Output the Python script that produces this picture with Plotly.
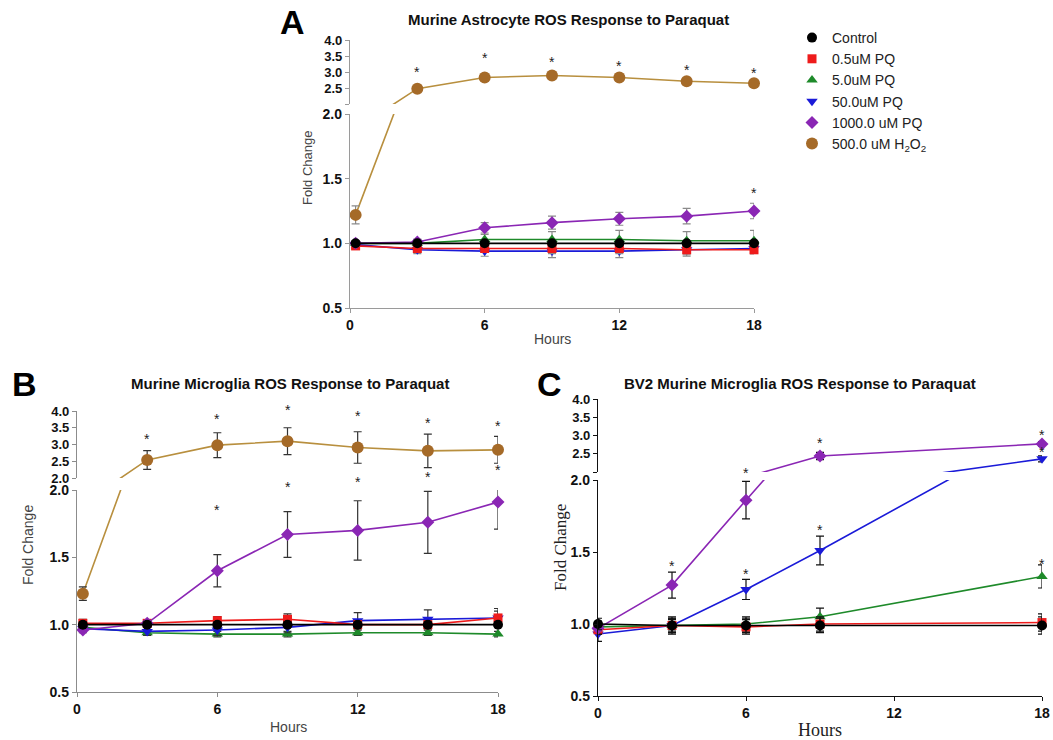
import plotly.graph_objects as go

W, H = 1053, 740

# ---------------- data ----------------
series_names = ["Control", "0.5uM PQ", "5.0uM PQ", "50.0uM PQ", "1000.0 uM PQ",
                "500.0 uM H<sub>2</sub>O<sub>2</sub>"]
marker_colors = ["#000000", "#ee1b1b", "#1e8a2a", "#1a1ad8", "#8a26b4", "#a56a28"]
line_colors = ["#000000", "#ee1b1b", "#1e8a2a", "#1a1ad8", "#8a26b4", "#b88f3e"]
symbols = ["circle", "square", "triangle-up", "triangle-down", "diamond", "circle"]
marker_sizes = [10, 9, 10, 10, 10, 12]

x_ticks = [0, 6, 12, 18]
lower_ticks = [0.5, 1.0, 1.5, 2.0]
upper_ticks = [2.0, 2.5, 3.0, 3.5, 4.0]

# Panel A: Murine astrocytes
A_t = [0.25, 3, 6, 9, 12, 15, 18]
A_ctrl = [1.00, 1.00, 1.00, 1.00, 1.00, 1.00, 1.00]
A_pq05 = [0.98, 0.96, 0.96, 0.96, 0.96, 0.95, 0.95]
A_pq5 = [1.00, 1.00, 1.03, 1.03, 1.03, 1.02, 1.02]
A_pq50 = [0.99, 0.95, 0.94, 0.94, 0.94, 0.95, 0.96]
A_pq1000 = [1.00, 1.01, 1.12, 1.16, 1.19, 1.21, 1.25]
A_h2o2 = [1.22, 2.48, 2.83, 2.89, 2.83, 2.71, 2.65]
A_ctrl_err = [0.02, 0.02, 0.02, 0.02, 0.02, 0.02, 0.02]
A_pq05_err = [0.02, 0.02, 0.03, 0.04, 0.04, 0.04, 0.03]
A_pq5_err = [0.02, 0.03, 0.04, 0.06, 0.07, 0.07, 0.08]
A_pq50_err = [0.02, 0.03, 0.04, 0.05, 0.05, 0.05, 0.04]
A_pq1000_err = [0.02, 0.02, 0.04, 0.05, 0.05, 0.06, 0.06]
A_h2o2_err = [0.07, 0.05, 0.05, 0.05, 0.05, 0.05, 0.05]
A_star_x = [3, 6, 9, 12, 15, 18, 18]
A_star_y = [3.00, 3.44, 3.31, 3.19, 3.06, 2.97, 1.39]

# Panel B: Murine microglia
B_t = [0.25, 3, 6, 9, 12, 15, 18]
B_ctrl = [1.00, 1.00, 1.00, 1.00, 1.00, 1.00, 1.00]
B_pq05 = [1.01, 1.01, 1.03, 1.04, 1.00, 1.00, 1.05]
B_pq5 = [0.98, 0.94, 0.93, 0.93, 0.94, 0.94, 0.93]
B_pq50 = [0.97, 0.95, 0.96, 0.98, 1.03, 1.04, 1.05]
B_pq1000 = [0.96, 1.01, 1.40, 1.67, 1.70, 1.76, 1.91]
B_h2o2 = [1.23, 2.54, 2.98, 3.10, 2.91, 2.81, 2.84]
B_ctrl_err = [0.02, 0.02, 0.02, 0.02, 0.02, 0.02, 0.02]
B_pq05_err = [0.03, 0.02, 0.03, 0.04, 0.03, 0.03, 0.05]
B_pq5_err = [0.02, 0.02, 0.02, 0.02, 0.02, 0.02, 0.02]
B_pq50_err = [0.02, 0.03, 0.04, 0.04, 0.06, 0.07, 0.07]
B_pq1000_err = [0.02, 0.02, 0.12, 0.17, 0.22, 0.23, 0.20]
B_h2o2_err = [0.05, 0.28, 0.37, 0.40, 0.47, 0.50, 0.40]
B_star_x = [3, 6, 9, 12, 15, 18, 6, 9, 12, 15, 18]
B_star_y = [3.16, 3.76, 4.03, 3.85, 3.64, 3.55, 1.85, 2.02, 2.06, 2.10, 2.15]

# Panel C: BV2 microglia (no H2O2 series)
C_t = [0, 3, 6, 9, 18]
C_ctrl = [1.00, 0.99, 0.99, 0.99, 0.99]
C_pq05 = [0.96, 0.99, 0.98, 1.00, 1.01]
C_pq5 = [0.98, 0.99, 1.00, 1.05, 1.33]
C_pq50 = [0.93, 0.99, 1.24, 1.51, 2.36]
C_pq1000 = [0.97, 1.27, 1.86, 2.44, 2.77]
C_ctrl_err = [0.04, 0.06, 0.05, 0.05, 0.06]
C_pq05_err = [0.03, 0.05, 0.05, 0.05, 0.06]
C_pq5_err = [0.04, 0.05, 0.05, 0.06, 0.08]
C_pq50_err = [0.05, 0.04, 0.07, 0.10, 0.08]
C_pq1000_err = [0.04, 0.09, 0.13, 0.10, 0.06]
C_star_x = [3, 6, 9, 18, 18, 6, 9, 18]
C_star_y = [1.40, 2.05, 2.79, 3.01, 2.55, 1.35, 1.65, 1.42]

panels = [
    dict(key="A", t=A_t,
         ys=[A_ctrl, A_pq05, A_pq5, A_pq50, A_pq1000, A_h2o2],
         es=[A_ctrl_err, A_pq05_err, A_pq5_err, A_pq50_err, A_pq1000_err, A_h2o2_err],
         stars=(A_star_x, A_star_y),
         xdom=(350, 754), lower=(114, 308), upper=(40, 104),
         axcol="#9a9a9a", errcol="#8a8a8a", show_upper_20=False, legend=True),
    dict(key="B", t=B_t,
         ys=[B_ctrl, B_pq05, B_pq5, B_pq50, B_pq1000, B_h2o2],
         es=[B_ctrl_err, B_pq05_err, B_pq5_err, B_pq50_err, B_pq1000_err, B_h2o2_err],
         stars=(B_star_x, B_star_y),
         xdom=(77, 498), lower=(490, 692), upper=(411, 478),
         axcol="#8c8c8c", errcol="#333333", show_upper_20=True, legend=False),
    dict(key="C", t=C_t,
         ys=[C_ctrl, C_pq05, C_pq5, C_pq50, C_pq1000],
         es=[C_ctrl_err, C_pq05_err, C_pq5_err, C_pq50_err, C_pq1000_err],
         stars=(C_star_x, C_star_y),
         xdom=(598, 1042), lower=(480, 696), upper=(399, 472),
         axcol="#111111", errcol="#111111", show_upper_20=False, legend=False),
]

SANS = "Arial, Liberation Sans, sans-serif"
SERIF = "Times New Roman, Liberation Serif, serif"
LOWER_RANGE = (0.5, 2.0)
UPPER_RANGE = (2.0, 4.0)


def fx(px):
    return px / W


def fy(py):
    return 1 - py / H


fig = go.Figure()
layout = {}
annotations = []
draw_order = [2, 3, 1, 4, 5, 0]

for pi, p in enumerate(panels):
    xa = "x" if pi == 0 else f"x{pi + 1}"
    ylo = "y" if pi == 0 else f"y{2 * pi + 1}"
    yup = f"y{2 * pi + 2}"
    ranges = {ylo: LOWER_RANGE, yup: UPPER_RANGE}
    for si in draw_order:
        if si >= len(p["ys"]):
            continue
        ys, es = p["ys"][si], p["es"][si]
        for ya in (ylo, yup):
            fig.add_trace(go.Scatter(
                x=p["t"], y=ys, xaxis=xa, yaxis=ya, mode="lines",
                line=dict(color=line_colors[si], width=1.6),
                showlegend=False, hoverinfo="skip"))
        for ya in (ylo, yup):
            lo, hi = ranges[ya]
            my = [v if lo <= v <= hi else None for v in ys]
            me = [e if lo <= v <= hi else None for v, e in zip(ys, es)]
            show = p["legend"] and ya == ylo
            fig.add_trace(go.Scatter(
                x=p["t"], y=my, xaxis=xa, yaxis=ya, mode="markers",
                marker=dict(color=marker_colors[si], symbol=symbols[si],
                            size=marker_sizes[si], line=dict(width=0)),
                error_y=dict(type="data", array=me, visible=True,
                             color=p["errcol"], thickness=1.2, width=4),
                cliponaxis=False, name=series_names[si],
                showlegend=show, legendrank=si + 1 if show else 1000))
    # significance asterisks: placed on the axis domain (so they may sit in the break)
    sx, sy = p["stars"]
    for x, y in zip(sx, sy):
        ya = ylo if y < 2.2 else yup
        lo, hi = ranges[ya]
        annotations.append(dict(text="*", x=x, y=(y - lo) / (hi - lo),
                                xref=xa, yref=f"{ya} domain",
                                showarrow=False, xanchor="center", yanchor="middle",
                                font=dict(size=14, color="#222222", family=SANS)))

    axcol = p["axcol"]
    tf = dict(family=SANS, size=14, color="#111111", weight="bold")
    tfu = dict(family=SANS, size=13, color="#111111", weight="bold")
    common = dict(showline=True, linecolor=axcol, linewidth=1.3, ticks="outside",
                  ticklen=4, tickcolor=axcol, tickwidth=1.2, showgrid=False,
                  zeroline=False, fixedrange=True, automargin=False)
    layout["xaxis" if pi == 0 else f"xaxis{pi + 1}"] = dict(
        domain=[fx(p["xdom"][0]), fx(p["xdom"][1])], range=[0, 18],
        tickvals=x_ticks, ticktext=[str(v) for v in x_ticks], anchor=ylo,
        tickfont=tf, **common)
    layout["yaxis" if pi == 0 else f"yaxis{2 * pi + 1}"] = dict(
        domain=[fy(p["lower"][1]), fy(p["lower"][0])], range=list(LOWER_RANGE),
        tickvals=lower_ticks, ticktext=[f"{v:.1f}" for v in lower_ticks],
        anchor=xa, tickfont=tf, **common)
    layout[f"yaxis{2 * pi + 2}"] = dict(
        domain=[fy(p["upper"][1]), fy(p["upper"][0])], range=list(UPPER_RANGE),
        tickvals=upper_ticks,
        ticktext=[("" if (v == 2.0 and not p["show_upper_20"]) else f"{v:.1f}") for v in upper_ticks],
        anchor=xa, tickfont=tfu, **common)

paper_notes = [
    # panel letters
    dict(text="<b>A</b>", x=fx(292), y=fy(22), font=dict(size=34, family=SANS, color="#000")),
    dict(text="<b>B</b>", x=fx(24), y=fy(384), font=dict(size=34, family=SANS, color="#000")),
    dict(text="<b>C</b>", x=fx(550), y=fy(384), font=dict(size=34, family=SANS, color="#000")),
    # titles
    dict(text="<b>Murine Astrocyte ROS Response to Paraquat</b>", x=fx(568), y=fy(20),
         font=dict(size=15, family=SANS, color="#111")),
    dict(text="<b>Murine Microglia ROS Response to Paraquat</b>", x=fx(290), y=fy(383),
         font=dict(size=15, family=SANS, color="#111")),
    dict(text="<b>BV2 Murine Microglia ROS Response to Paraquat</b>", x=fx(800), y=fy(383),
         font=dict(size=15, family=SANS, color="#111")),
    # axis titles
    dict(text="Fold Change", x=fx(307), y=fy(168), textangle=-90,
         font=dict(size=13, family=SANS, color="#444")),
    dict(text="Hours", x=fx(552), y=fy(339), font=dict(size=14, family=SANS, color="#444")),
    dict(text="Fold Change", x=fx(28), y=fy(545), textangle=-90,
         font=dict(size=14, family=SANS, color="#444")),
    dict(text="Hours", x=fx(288), y=fy(727), font=dict(size=14, family=SANS, color="#444")),
    dict(text="Fold Change", x=fx(560), y=fy(548), textangle=-90,
         font=dict(size=17, family=SERIF, color="#222")),
    dict(text="Hours", x=fx(820), y=fy(730), font=dict(size=18, family=SERIF, color="#222")),
]
for a in paper_notes:
    a.update(xref="paper", yref="paper", showarrow=False, xanchor="center", yanchor="middle")
annotations.extend(paper_notes)

fig.update_layout(
    width=W, height=H, margin=dict(l=0, r=0, t=0, b=0, pad=0, autoexpand=False),
    paper_bgcolor="white", plot_bgcolor="white",
    annotations=annotations,
    legend=dict(x=fx(792), y=fy(22), xanchor="left", yanchor="top",
                font=dict(size=14, family=SANS, color="#222"),
                itemwidth=30, bgcolor="rgba(0,0,0,0)", tracegroupgap=0),
    **layout,
)

fig.write_html("out.html", config={"displayModeBar": False},
               post_script="document.body.style.margin='0px';document.body.style.overflow='hidden';")
